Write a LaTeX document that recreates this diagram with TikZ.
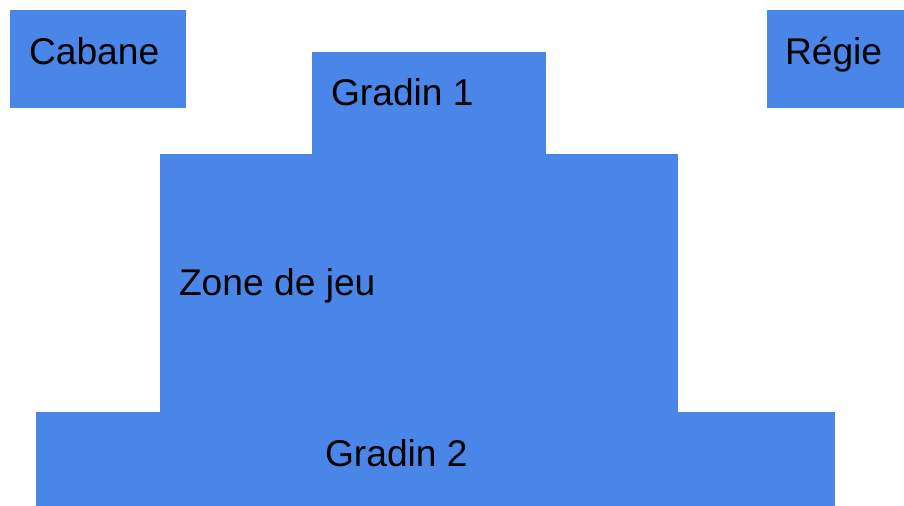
\documentclass[tikz,border=0pt]{standalone}
\usepackage{fontspec}
\setmainfont{Liberation Sans}
\definecolor{zoneblue}{HTML}{4A86E8}
\begin{document}
\begin{tikzpicture}[x=0.75pt,y=-0.75pt,
  area/.style={fill=zoneblue},
  lbl/.style={anchor=base west,inner sep=0pt,outer sep=0pt,text=black,font=\fontsize{27.9}{33}\selectfont}]
\useasboundingbox (0,0) rectangle (904,506);
\fill[white] (0,0) rectangle (904,506);
% areas
\fill[area] (10,10) rectangle (186,108);
\fill[area] (767,10) rectangle (904,108);
\fill[area] (312,52) rectangle (546,155);
\fill[area] (160,154) rectangle (678,413);
\fill[area] (36,412) rectangle (835,506);
% labels
\node[lbl] (cabane) at (29,65) {Cabane};
\node[lbl] (regie) at (785,65) {Régie};
\node[lbl] (gradin1) at (331,106) {Gradin 1};
\node[lbl] (zone) at (179,296) {Zone de jeu};
\node[lbl] (gradin2) at (325,466) {Gradin 2};
\end{tikzpicture}
\end{document}
